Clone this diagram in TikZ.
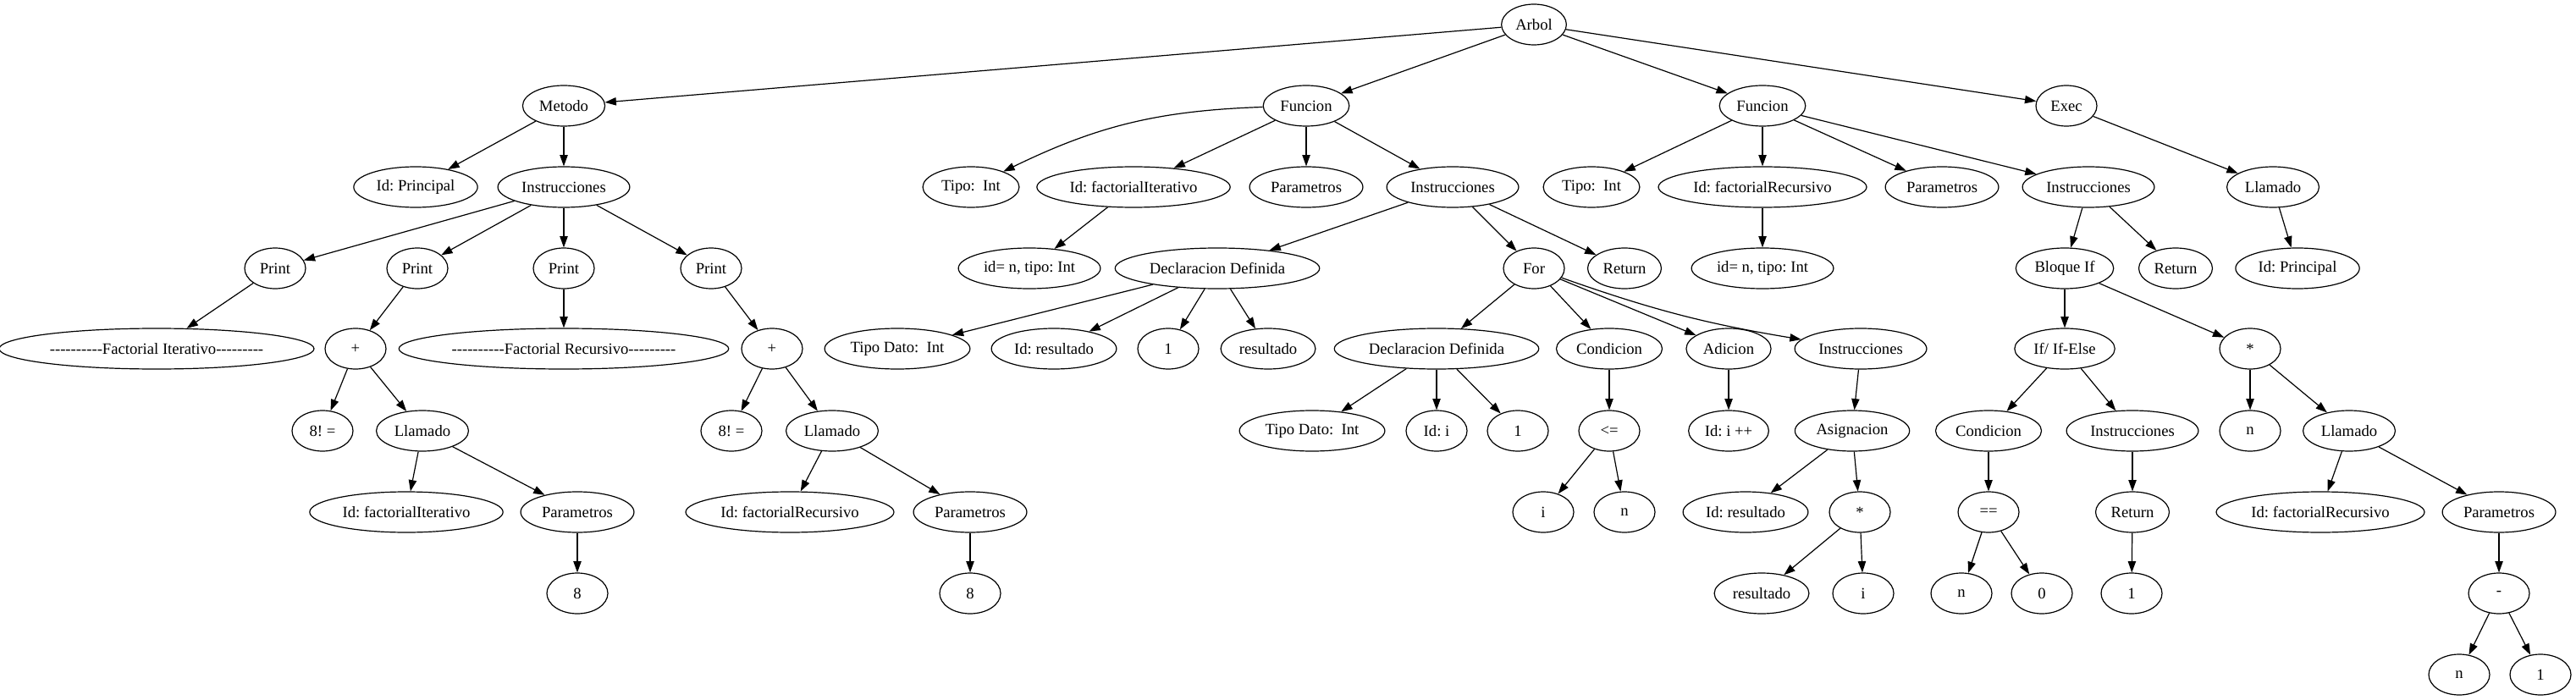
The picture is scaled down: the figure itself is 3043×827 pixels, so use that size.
\documentclass[tikz,border=0pt]{standalone}
\usepackage{fontspec}
\setmainfont{Liberation Serif}
\usetikzlibrary{shapes.geometric,arrows.meta}
\tikzset{
	ast/.style={
		draw, ellipse, minimum width=54pt, minimum height=36pt,
		inner sep=4pt, text=black,
		font=\fontsize{14pt}{16pt}\selectfont\frenchspacing
	},
}

\begin{document}
\begin{tikzpicture}[
		x=0.75pt, y=-0.75pt, line width=0.9pt,
		->, >={Triangle[length=10pt,width=7pt]}
		]
		\useasboundingbox (0,0) rectangle (3043,827);
		
		% nivel 0 y 1
		\node[ast] (arbol) at (1812,29) {Arbol};
		\node[ast] (metodo) at (666,125) {Metodo};
		\node[ast] (fun1) at (1543,125) {Funcion};
		\node[ast] (fun2) at (2082,125) {Funcion};
		\node[ast] (exec) at (2441,125) {Exec};
		
		% nivel 2
		\node[ast] (idprin) at (491,221) {Id: Principal};
		\node[ast] (insm) at (666,221) {Instrucciones};
		\node[ast] (tipo1) at (1147,221) {Tipo:\ \ Int};
		\node[ast] (idfi) at (1339,221) {Id: factorialIterativo};
		\node[ast] (par1) at (1543,221) {Parametros};
		\node[ast] (ins1) at (1716,221) {Instrucciones};
		\node[ast] (tipo2) at (1880,221) {Tipo:\ \ Int};
		\node[ast] (idfr) at (2082,221) {Id: factorialRecursivo};
		\node[ast] (par2) at (2294,221) {Parametros};
		\node[ast] (ins2) at (2467,221) {Instrucciones};
		\node[ast] (llexec) at (2685,221) {Llamado};
		
		% nivel 3
		\node[ast] (pr1) at (325,317) {Print};
		\node[ast] (pr2) at (493,317) {Print};
		\node[ast] (pr3) at (666,317) {Print};
		\node[ast] (pr4) at (840,317) {Print};
		\node[ast] (arg1) at (1216,317) {id= n, tipo: Int};
		\node[ast] (decl1) at (1438,317) {Declaracion Definida};
		\node[ast] (cfor) at (1812,317) {For};
		\node[ast] (ret1) at (1919,317) {Return};
		\node[ast] (arg2) at (2082,317) {id= n, tipo: Int};
		\node[ast] (bif) at (2439,317) {Bloque If};
		\node[ast] (ret2) at (2570,317) {Return};
		\node[ast] (idprin2) at (2714,317) {Id: Principal};
		
		% nivel 4
		\node[ast] (titer) at (185,412) {-{}-{}-{}-{}-{}-{}-{}-{}-{}-Factorial Iterativo-{}-{}-{}-{}-{}-{}-{}-{}-};
		\node[ast] (plus1) at (420,412) {+};
		\node[ast] (trec) at (666,412) {-{}-{}-{}-{}-{}-{}-{}-{}-{}-Factorial Recursivo-{}-{}-{}-{}-{}-{}-{}-{}-};
		\node[ast] (plus2) at (912,412) {+};
		\node[ast] (td1) at (1060,412) {Tipo Dato:\ \ Int};
		\node[ast] (idres) at (1245,412) {Id: resultado};
		\node[ast] (uno1) at (1380,412) {1};
		\node[ast] (res1) at (1498,412) {resultado};
		\node[ast] (decl2) at (1697,412) {Declaracion Definida};
		\node[ast] (cond1) at (1901,412) {Condicion};
		\node[ast] (adic) at (2042,412) {Adicion};
		\node[ast] (ins3) at (2198,412) {Instrucciones};
		\node[ast] (ifelse) at (2439,412) {If/ If-Else};
		\node[ast] (mul2) at (2658,412) {*};
		
		% nivel 5
		\node[ast] (fact1) at (381,509) {8! =};
		\node[ast] (ll1) at (499,509) {Llamado};
		\node[ast] (fact2) at (864,509) {8! =};
		\node[ast] (ll2) at (983,509) {Llamado};
		\node[ast] (td2) at (1550,509) {Tipo Dato:\ \ Int};
		\node[ast] (idi) at (1697,509) {Id: i};
		\node[ast] (uno2) at (1793,509) {1};
		\node[ast] (leq) at (1901,509) {<=};
		\node[ast] (idinc) at (2042,509) {Id: i ++};
		\node[ast] (asig) at (2188,509) {Asignacion};
		\node[ast] (cond2) at (2349,509) {Condicion};
		\node[ast] (ins4) at (2519,509) {Instrucciones};
		\node[ast] (n1) at (2658,509) {n};
		\node[ast] (ll3) at (2775,509) {Llamado};
		
		% nivel 6
		\node[ast] (idfi2) at (480,605) {Id: factorialIterativo};
		\node[ast] (parc1) at (682,605) {Parametros};
		\node[ast] (idfr2) at (933,605) {Id: factorialRecursivo};
		\node[ast] (parc2) at (1146,605) {Parametros};
		\node[ast] (vi) at (1823,605) {i};
		\node[ast] (vn) at (1919,605) {n};
		\node[ast] (idres2) at (2062,605) {Id: resultado};
		\node[ast] (mul1) at (2197,605) {*};
		\node[ast] (eq) at (2349,605) {==};
		\node[ast] (ret3) at (2519,605) {Return};
		\node[ast] (idfr3) at (2741,605) {Id: factorialRecursivo};
		\node[ast] (parc3) at (2952,605) {Parametros};
		
		% nivel 7 y 8
		\node[ast] (ocho1) at (682,701) {8};
		\node[ast] (ocho2) at (1146,701) {8};
		\node[ast] (res2) at (2081,701) {resultado};
		\node[ast] (vi2) at (2201,701) {i};
		\node[ast] (vn2) at (2317,701) {n};
		\node[ast] (cero) at (2412,701) {0};
		\node[ast] (uno3) at (2518,701) {1};
		\node[ast] (minus) at (2952,701) {-};
		\node[ast] (vn3) at (2905,797) {n};
		\node[ast] (uno4) at (3001,797) {1};
		
		% aristas
		\path (arbol) edge (metodo) edge (fun1) edge (fun2) edge (exec);
		\path (metodo) edge (idprin) edge (insm);
		\path (insm) edge (pr1) edge (pr2) edge (pr3) edge (pr4);
		\path (pr1) edge (titer);
		\path (pr2) edge (plus1);
		\path (pr3) edge (trec);
		\path (pr4) edge (plus2);
		\path (plus1) edge (fact1) edge (ll1);
		\path (ll1) edge (idfi2) edge (parc1);
		\path (parc1) edge (ocho1);
		\path (plus2) edge (fact2) edge (ll2);
		\path (ll2) edge (idfr2) edge (parc2);
		\path (parc2) edge (ocho2);
		
		\path (fun1) edge [bend right=12] (tipo1) edge (idfi) edge (par1) edge (ins1);
		\path (idfi) edge (arg1);
		\path (ins1) edge (decl1) edge (cfor) edge (ret1);
		\path (decl1) edge (td1) edge (idres) edge (uno1) edge (res1);
		\path (cfor) edge (decl2) edge (cond1) edge (adic) edge [bend right=5] (ins3);
		\path (decl2) edge (td2) edge (idi) edge (uno2);
		\path (cond1) edge (leq);
		\path (leq) edge (vi) edge (vn);
		\path (adic) edge (idinc);
		\path (ins3) edge (asig);
		\path (asig) edge (idres2) edge (mul1);
		\path (mul1) edge (res2) edge (vi2);
		
		\path (fun2) edge (tipo2) edge (idfr) edge (par2) edge (ins2);
		\path (idfr) edge (arg2);
		\path (ins2) edge (bif) edge (ret2);
		\path (bif) edge (ifelse) edge (mul2);
		\path (ifelse) edge (cond2) edge (ins4);
		\path (cond2) edge (eq);
		\path (eq) edge (vn2) edge (cero);
		\path (ins4) edge (ret3);
		\path (ret3) edge (uno3);
		\path (mul2) edge (n1) edge (ll3);
		\path (ll3) edge (idfr3) edge (parc3);
		\path (parc3) edge (minus);
		\path (minus) edge (vn3) edge (uno4);
		
		\path (exec) edge (llexec);
		\path (llexec) edge (idprin2);
	\end{tikzpicture}
\end{document}
